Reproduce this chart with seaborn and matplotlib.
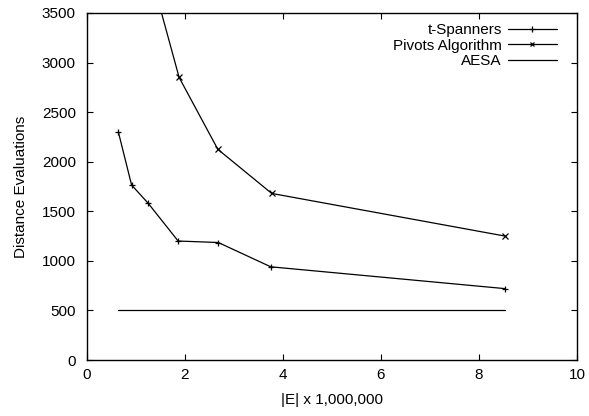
import matplotlib
matplotlib.use("Agg")
import matplotlib.pyplot as plt
import seaborn as sns
import pandas as pd

sns.set_theme(style="ticks")
plt.rcParams['font.family'] = ['Liberation Sans', 'DejaVu Sans']
plt.rcParams['text.color'] = 'black'
plt.rcParams['axes.labelcolor'] = 'black'

span_x = [0.64, 0.91, 1.25, 1.86, 2.68, 3.75, 8.53]
span_y = [2300, 1765, 1580, 1200, 1185, 940, 720]
piv_x = [1.25, 1.88, 2.67, 3.77, 8.53]
piv_y = [3990, 2850, 2125, 1680, 1250]
aesa_x = [0.64, 8.53]
aesa_y = [500, 500]

fig = plt.figure(figsize=(5.89, 4.16), dpi=100)
ax = fig.add_axes([0.1477, 0.1346, 0.8319, 0.8342])

df_s = pd.DataFrame({"x": span_x, "y": span_y})
df_p = pd.DataFrame({"x": piv_x, "y": piv_y})
df_a = pd.DataFrame({"x": aesa_x, "y": aesa_y})

sns.lineplot(data=df_s, x="x", y="y", ax=ax, color="black", lw=0.9, marker="+",
             markersize=5, markeredgewidth=0.9, markeredgecolor="black",
             label="t-Spanners", sort=False)
sns.lineplot(data=df_p, x="x", y="y", ax=ax, color="black", lw=0.9, marker="x",
             markersize=4, markeredgewidth=0.9, markeredgecolor="black",
             label="Pivots Algorithm", sort=False)
sns.lineplot(data=df_a, x="x", y="y", ax=ax, color="black", lw=0.9,
             label="AESA", sort=False)

ax.set_xlim(0, 10)
ax.set_ylim(0, 3500)
ax.set_xticks([0, 2, 4, 6, 8, 10])
ax.set_yticks(range(0, 3501, 500))
ax.tick_params(direction="in", top=True, right=True, labelsize=11, length=4,
               width=0.8, colors="black", labelcolor="black")
ax.tick_params(axis="y", pad=8)
ax.tick_params(axis="x", pad=6)
for s in ax.spines.values():
    s.set_linewidth(1.0)
    s.set_color("black")
ax.set_xlabel("|E| x 1,000,000", fontsize=11, color="black", labelpad=8)
ax.set_ylabel("Distance Evaluations", fontsize=11, color="black", labelpad=10)

ax.legend(loc="upper right", bbox_to_anchor=(0.9775, 0.997), frameon=False,
          markerfirst=False, fontsize=11, handlelength=3.2, handletextpad=0.4,
          labelspacing=0.1, borderaxespad=0.2, borderpad=0.4, markerscale=0.8)

fig.savefig("out.png", dpi=100)
